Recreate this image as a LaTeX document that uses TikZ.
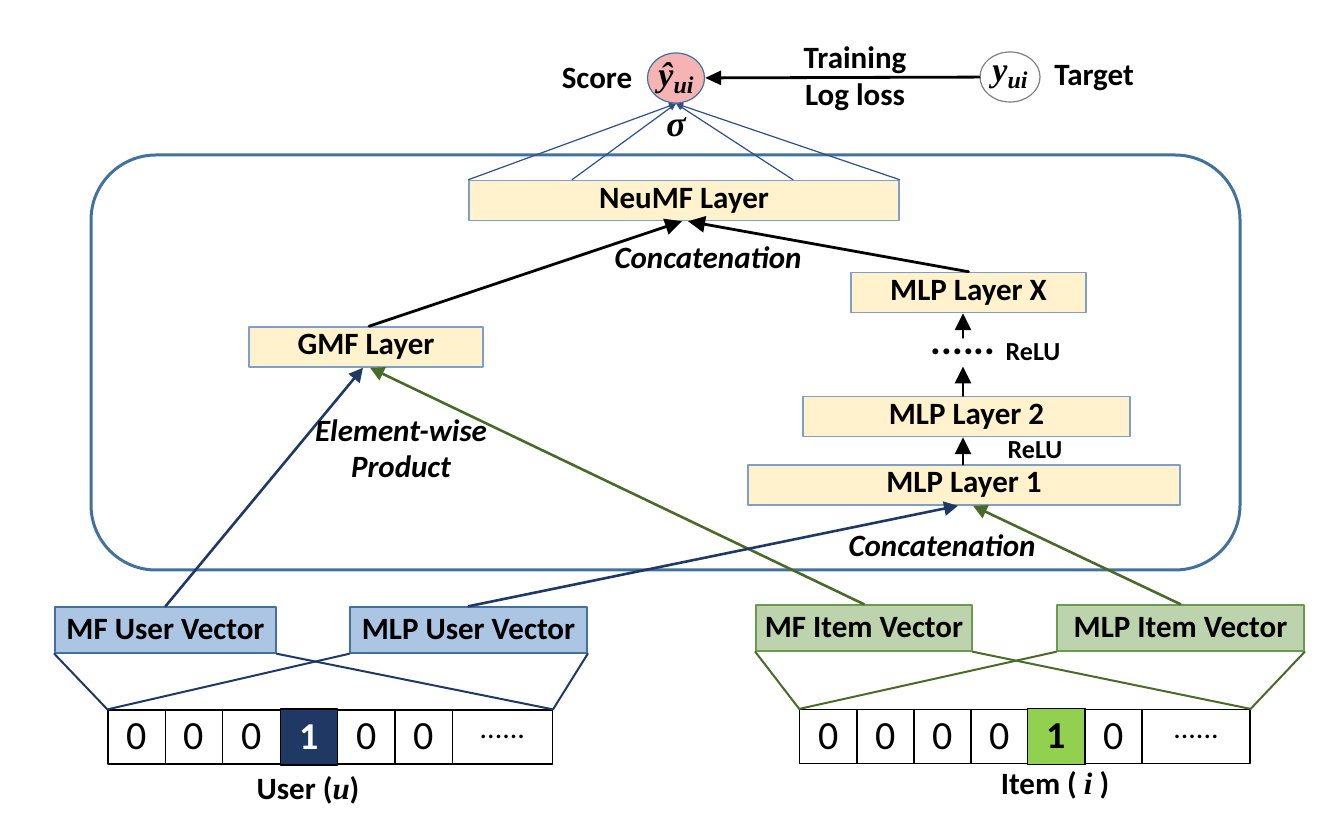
\documentclass[tikz,border=0pt]{standalone}
\usepackage{fontspec}
\setmainfont{Carlito}
\newfontfamily\serifit{Liberation Serif}
\usetikzlibrary{arrows.meta,shapes.geometric}

\definecolor{frameblue}{HTML}{41719C}
\definecolor{layerfill}{HTML}{FFF2CC}
\definecolor{layerline}{HTML}{7F9FC8}
\definecolor{userfill}{HTML}{ABC5E3}
\definecolor{itemfill}{HTML}{BDD3AD}
\definecolor{itemline}{HTML}{6A9A50}
\definecolor{navy}{HTML}{203864}
\definecolor{leaf}{HTML}{4A6A2A}
\definecolor{onegreen}{HTML}{92D050}
\definecolor{scorepink}{HTML}{F6B3B3}
\definecolor{sigline}{HTML}{2F4F85}

\begin{document}
\begin{tikzpicture}[x=0.5pt,y=-0.5pt,line cap=round,line join=round,
    font=\bfseries\fontsize{15.5}{18}\selectfont,
    layer/.style={draw=layerline,fill=layerfill,line width=0.75pt,inner sep=0pt,minimum height=20pt},
    uservec/.style={draw=frameblue,fill=userfill,line width=0.75pt,inner sep=0pt,minimum height=23pt},
    itemvec/.style={draw=itemline,fill=itemfill,line width=0.75pt,inner sep=0pt,minimum height=23pt},
    cell/.style={draw,line width=0.6pt,inner sep=0pt,minimum width=28.7pt,minimum height=27pt,
      font=\mdseries\fontsize{20}{24}\selectfont},
    onecell/.style={cell,minimum height=28pt,font=\bfseries\fontsize{19}{22}\selectfont},
    italic/.style={font=\bfseries\itshape\fontsize{15.5}{18}\selectfont},
    relu/.style={font=\bfseries\fontsize{13}{15}\selectfont},
    bigarrow/.style={-{Triangle[length=8.5pt,width=8pt]},line width=1.4pt},
    embarrow/.style={-{Triangle[length=7pt,width=7pt]},line width=1.3pt},
    sigarrow/.style={-{Triangle[length=3.5pt,width=3pt]},sigline,line width=0.6pt}]
  \useasboundingbox (0,0) rectangle (1321,822);

  % Big frame
  \draw[frameblue,line width=1.5pt,rounded corners=32.5pt] (91,155) rectangle (1240,570);

  % Score and target
  \node[ellipse,draw=frameblue,fill=scorepink,line width=0.6pt,minimum width=28.5pt,minimum height=25pt,inner sep=0pt]
    (yhat) at (676,78) {\serifit\bfseries\itshape\fontsize{17}{17}\selectfont ŷ\raisebox{-0.45ex}{\fontsize{12}{12}\selectfont ui}};
  \node[ellipse,draw=gray,line width=0.6pt,minimum width=30pt,minimum height=25pt,inner sep=0pt]
    (ytrue) at (1010,77) {\serifit\itshape\fontsize{17}{17}\selectfont y\raisebox{-0.45ex}{\fontsize{12}{12}\selectfont\bfseries ui}};
  \node (score) at (597,78) {Score};
  \node (target) at (1094,78) {Target};
  \node (train) at (855,60) {Training};
  \node (logloss) at (855,97) {Log loss};
  \draw[bigarrow,-{Triangle[length=8pt,width=7pt]}] (ytrue) -- (yhat);
  \node (sigma) at (676,127) {\serifit\bfseries\itshape\fontsize{18}{18}\selectfont σ};

  % Layers
  \node[layer,minimum width=215pt] (neumf) at (684,200.5) {NeuMF Layer};
  \node[layer,minimum width=117pt] (gmf) at (366,347) {GMF Layer};
  \node[layer,minimum width=117.5pt] (mlpx) at (968.5,292.5) {MLP Layer X};
  \node[layer,minimum width=163.5pt] (mlp2) at (966.5,416.5) {MLP Layer 2};
  \node[layer,minimum width=216pt] (mlp1) at (964,485) {MLP Layer 1};
  \node[minimum height=14pt,inner sep=0pt,font=\bfseries\fontsize{20}{20}\selectfont] (dots) at (963,352) {......};
  \node[relu] (relua) at (1033,352) {ReLU};
  \node[relu] (relub) at (1035,450) {ReLU};

  % sigma output
  \draw[sigarrow] (neumf.north west) -- (yhat.south);
  \draw[sigarrow] ([xshift=-56pt]neumf.north) -- (yhat.south);
  \draw[sigarrow] ([xshift=54.5pt]neumf.north) -- (yhat.south);
  \draw[sigarrow] (neumf.north east) -- (yhat.south);

  % Concatenation into NeuMF
  \draw[bigarrow] ([xshift=1.5pt]gmf.north) -- ([xshift=-1pt]neumf.south);
  \draw[bigarrow] (mlpx.north) -- ([xshift=2pt]neumf.south);
  \node[italic] (concat) at (708,258) {Concatenation};

  % MLP tower
  \draw[bigarrow] (mlp1.north -| dots) -- (mlp2.south -| dots);
  \draw[bigarrow] (mlp2.north -| dots) -- (dots.south);
  \draw[bigarrow] (dots.north) -- (mlpx.south -| dots);

  % Embedding vectors
  \node[uservec,minimum width=110.5pt] (mfuser) at (165.5,630) {MF User Vector};
  \node[uservec,minimum width=118.5pt] (mlpuser) at (468.5,630) {MLP User Vector};
  \node[itemvec,minimum width=108pt] (mfitem) at (864,628) {MF Item Vector};
  \node[itemvec,minimum width=123.5pt] (mlpitem) at (1180.5,628) {MLP Item Vector};

  \draw[embarrow,navy] (mfuser.north) -- ([xshift=-1.5pt]gmf.south);
  \draw[embarrow,leaf] (mfitem.north) -- ([xshift=2pt]gmf.south);
  \draw[embarrow,navy] (mlpuser.north) -- ([xshift=-3pt]mlp1.south);
  \draw[embarrow,leaf] (mlpitem.north) -- ([xshift=4.5pt]mlp1.south);
  \node[italic,align=center] (elemwise) at (401,449) {Element-wise\\Product};
  \node[italic] (concatb) at (942,546) {Concatenation};

  % User one-hot
  \node[cell] (u1) at (136.7,737) {0};
  \node[cell] (u2) at (194.1,737) {0};
  \node[cell] (u3) at (251.5,737) {0};
  \node[onecell,fill=navy,text=white] (u4) at (308.9,737) {1};
  \node[cell] (u5) at (366.3,737) {0};
  \node[cell] (u6) at (423.7,737) {0};
  \node[cell,minimum width=50pt,font=\mdseries\fontsize{15}{18}\selectfont] (u7) at (502.4,737) {......};
  \node (userlbl) at (308,790) {User ({\serifit\itshape u})};

  % Item one-hot
  \node[cell] (i1) at (828.5,736.5) {0};
  \node[cell] (i2) at (885.5,736.5) {0};
  \node[cell] (i3) at (942.5,736.5) {0};
  \node[cell] (i4) at (999.5,736.5) {0};
  \node[onecell,fill=onegreen] (i5) at (1056.5,736.5) {1};
  \node[cell] (i6) at (1113.5,736.5) {0};
  \node[cell,minimum width=54pt,font=\mdseries\fontsize{15}{18}\selectfont] (i7) at (1196,736.5) {......};
  \node (itemlbl) at (1055,785) {Item ( {\serifit\itshape i} )};

  % Lookup lines
  \draw[navy,line width=1pt] (mfuser.south west) -- (u1.north west);
  \draw[navy,line width=1pt] (mfuser.south east) -- (u7.north east);
  \draw[navy,line width=1pt] (mlpuser.south west) -- (u1.north west);
  \draw[navy,line width=1pt] (mlpuser.south east) -- (u7.north east);
  \draw[leaf,line width=1pt] (mfitem.south west) -- (i1.north west);
  \draw[leaf,line width=1pt] (mfitem.south east) -- (i7.north east);
  \draw[leaf,line width=1pt] (mlpitem.south west) -- (i1.north west);
  \draw[leaf,line width=1pt] (mlpitem.south east) -- (i7.north east);
\end{tikzpicture}
\end{document}
